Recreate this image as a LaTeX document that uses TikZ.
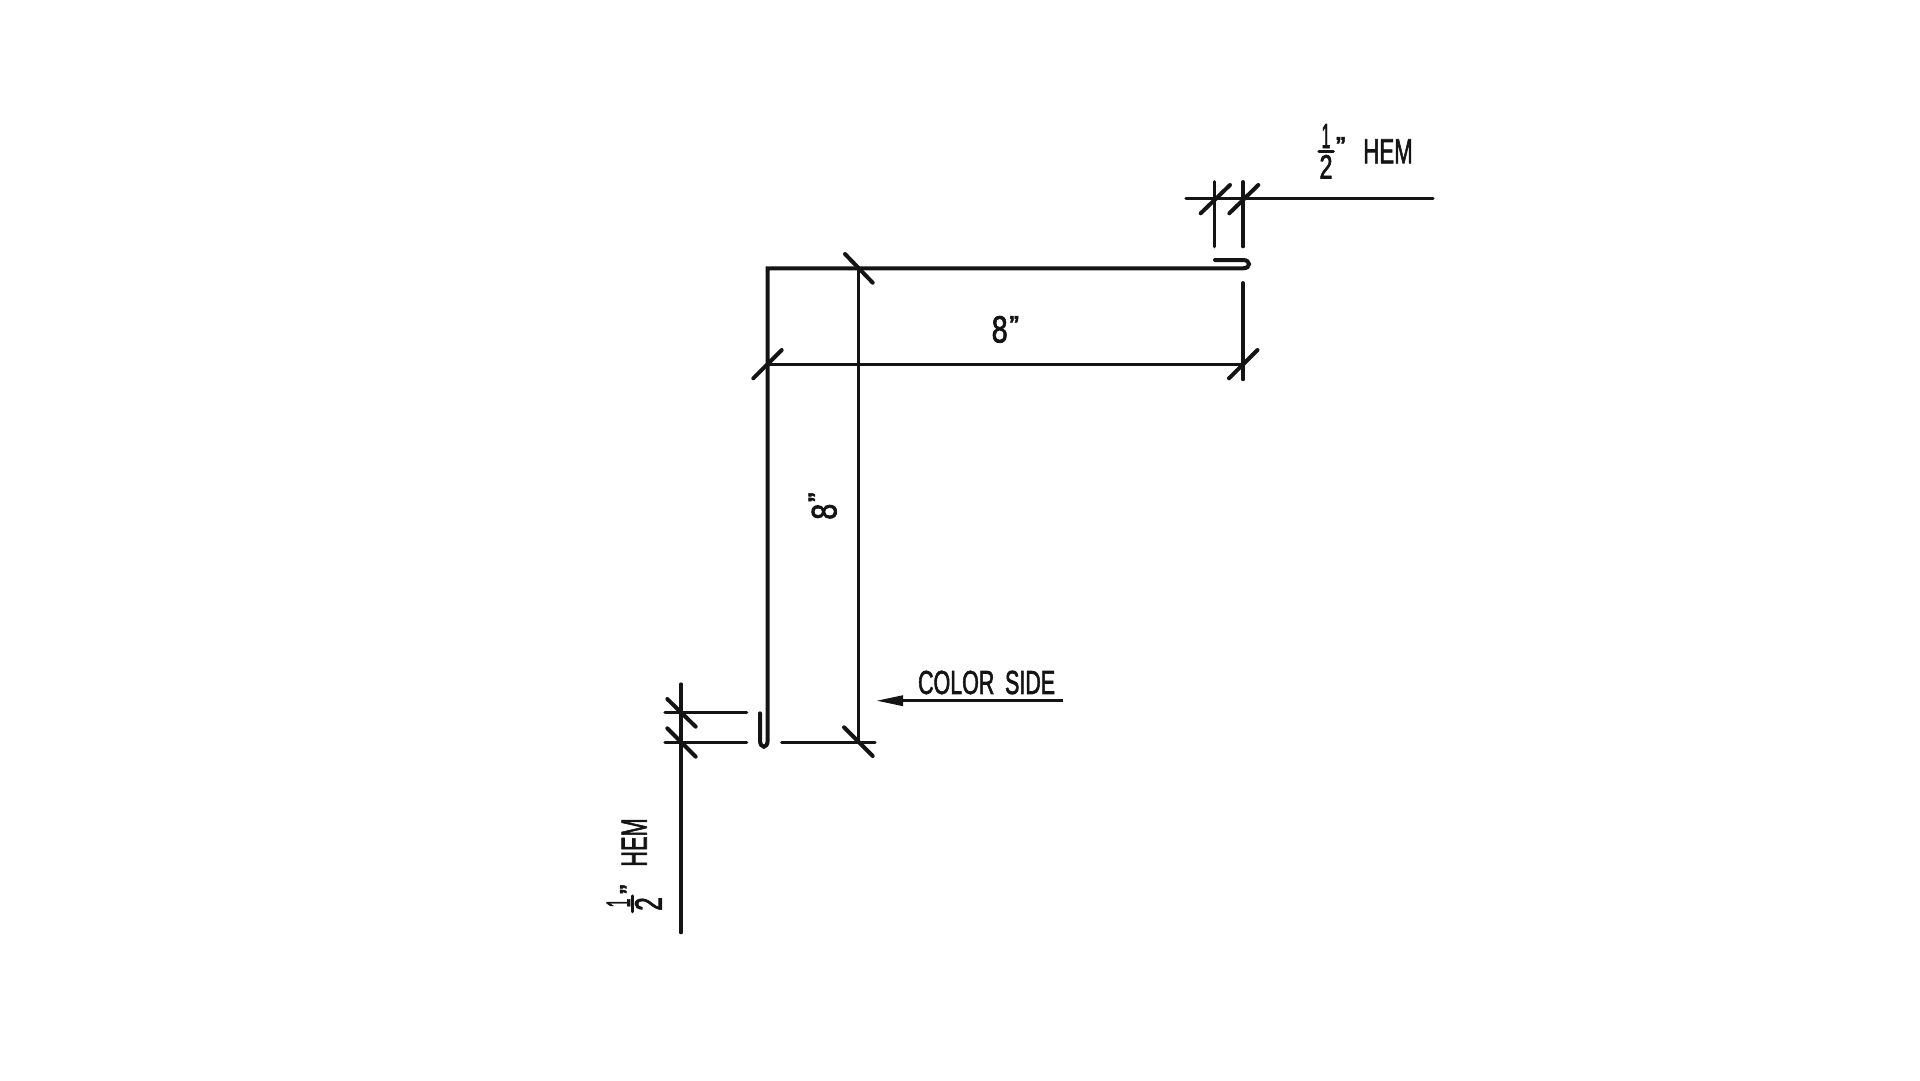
\documentclass[tikz,border=0pt]{standalone}
\usepackage{graphicx}
\usepackage{fontspec}
\setmainfont[FakeBold=2.2]{Liberation Sans}
\usetikzlibrary{arrows.meta}
\newcommand\fitbox[3]{\resizebox*{#1pt}{#2pt}{#3}}
\newcommand\qmark{\scalebox{2.2}{\bfseries ”}}
\tikzset{
  profile/.style={line width=4pt,line cap=round,line join=miter,color=black!92},
  dimline/.style={line width=3.2pt,line cap=round,color=black!92},
  tick/.style={line width=4pt,line cap=round,color=black!92},
  lbl/.style={inner sep=0pt,outer sep=0pt,anchor=center,text=black!92},
  vlbl/.style={lbl,rotate=90},
  qlbl/.style={inner sep=0pt,outer sep=0pt,anchor=base,text=black!92}
}
\begin{document}
\begin{tikzpicture}[x=1pt,y=-1pt]
\useasboundingbox[fill=white] (0,0) rectangle (1920,1080);
% key points
\coordinate (corner) at (767.7,268.3);
\coordinate (hemTopA) at (1243,268.3);
\coordinate (hemTopB) at (1243,260);
\coordinate (hemTopEnd) at (1215,260);
\coordinate (hemBotA) at (767.7,740);
\coordinate (hemBotB) at (760,740);
\coordinate (hemBotEnd) at (760,713.3);
% sheet profile
\draw[profile] (hemTopEnd) -- (hemTopB) .. controls (1251,260) and (1251,268.3) .. (hemTopA)
  -- (corner) -- (hemBotA) .. controls (767.7,749) and (760,749) .. (hemBotB) -- (hemBotEnd);
% top right hem dimension
\coordinate (hemExtL) at (1186,198.3);
\coordinate (hemExtR) at (1433,198.3);
\draw[dimline] (hemExtL) -- (hemExtR);
\draw[dimline] (1214.7,181.7) -- (1214.7,246.7);
\draw[dimline] (1243,181.7) -- (1243,246.7);
\draw[tick] (1200.7,213.3) -- (1230,185);
\draw[tick] (1229.3,213.3) -- (1258.3,185);
% horizontal 8" dimension
\draw[dimline] (1243,282.7) -- (1243,379.6);
\draw[dimline] (767.7,364.3) -- (1243,364.3);
\draw[tick] (753.3,378.3) -- (781.7,350);
\draw[tick] (1229,378.3) -- (1257.5,350);
% vertical 8" dimension
\draw[dimline] (858.3,268.3) -- (858.3,742.3);
\draw[tick] (845,254) -- (872.7,282.7);
\draw[tick] (844,727.3) -- (872.7,756);
\draw[dimline] (781.7,742.3) -- (875,742.3);
% lower left hem dimension
\draw[dimline] (665,712.3) -- (746.7,712.3);
\draw[dimline] (665,742.3) -- (746.7,742.3);
\draw[dimline] (681,684) -- (681,932.7);
\draw[tick] (667.3,699) -- (695.7,726.7);
\draw[tick] (667.3,728.3) -- (695.7,756.7);
% color side arrow
\coordinate (colorTail) at (1063.3,700.7);
\coordinate (colorTip) at (876,700.7);
\draw[line width=3.2pt,color=black!92,-{Triangle[length=27pt,width=10pt]}] (colorTail) -- (colorTip);
% labels
\node[lbl] (colorside) at (986.6,682.5) {\fitbox{137}{23.5}{COLOR\hspace{0.5em}SIDE}};
\node[lbl] (hemA) at (1388,151.3) {\fitbox{49.5}{24}{HEM}};
\node[lbl] (oneA) at (1326,136) {\fitbox{9}{24}{1}};
\node[lbl] (twoA) at (1326,166.7) {\fitbox{13}{23.5}{2}};
\node[qlbl] (quoteA) at (1340.8,152.3) {\qmark};
\draw[dimline] (1319,151.7) -- (1333.3,151.7);
\node[lbl] (eightA) at (999.7,329.4) {\fitbox{16}{26.7}{8}};
\node[qlbl] (quoteB) at (1014.2,331.3) {\qmark};
\node[vlbl] (eightB) at (824.2,511.7) {\fitbox{16}{25}{8}};
\node[qlbl,rotate=90] (quoteC) at (823.8,497.2) {\qmark};
\node[vlbl] (hemB) at (634.2,842.5) {\fitbox{48.4}{25}{HEM}};
\node[vlbl] (oneB) at (618.4,903) {\fitbox{9}{23.3}{1}};
\node[vlbl] (twoB) at (648.4,904) {\fitbox{13.5}{26.7}{2}};
\node[qlbl,rotate=90] (quoteD) at (635.2,889.2) {\qmark};
\draw[dimline] (632.7,896) -- (632.7,911.7);
\end{tikzpicture}
\end{document}
